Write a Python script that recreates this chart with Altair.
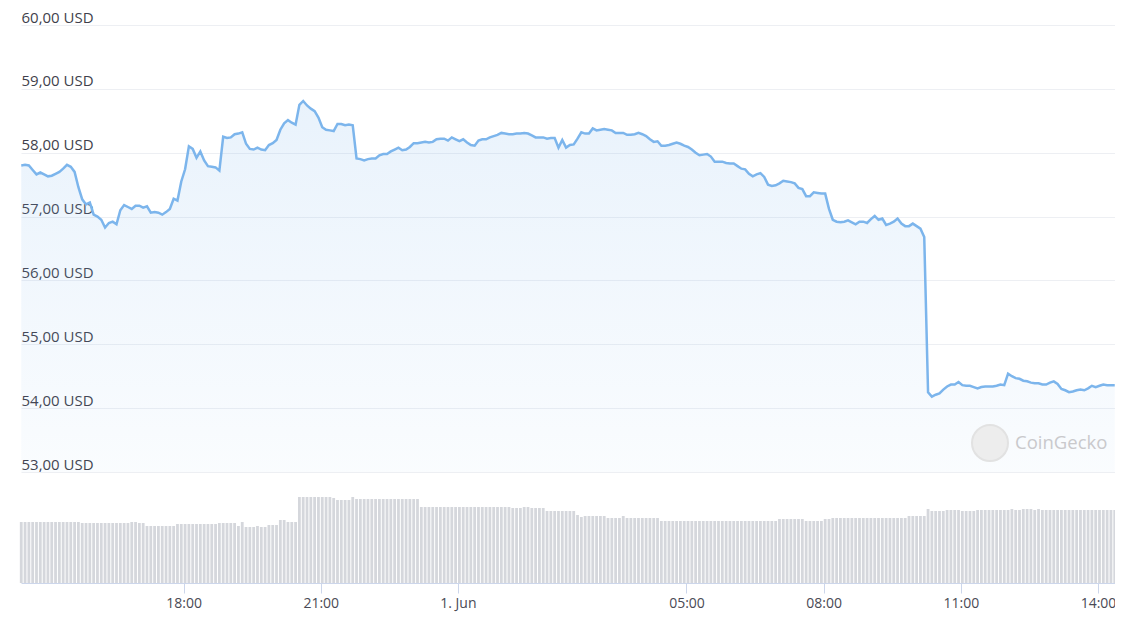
import altair as alt
import pandas as pd

# ---- data (5-minute steps, 31 May 14:27 -> 1 Jun 14:22) ----
price = [
    57.80, 57.81, 57.80, 57.73, 57.66, 57.69, 57.66, 57.63, 57.64, 57.67, 57.70, 57.75,
    57.81, 57.78, 57.70, 57.46, 57.27, 57.19, 57.22, 57.03, 57.00, 56.95, 56.83, 56.90,
    56.92, 56.88, 57.10, 57.18, 57.15, 57.12, 57.17, 57.17, 57.14, 57.16, 57.06, 57.07,
    57.06, 57.03, 57.07, 57.12, 57.28, 57.25, 57.55, 57.74, 58.10, 58.06, 57.92, 58.02,
    57.88, 57.79, 57.78, 57.77, 57.72, 58.25, 58.23, 58.24, 58.29, 58.30, 58.32, 58.14,
    58.06, 58.05, 58.08, 58.05, 58.04, 58.12, 58.15, 58.20, 58.36, 58.46, 58.51, 58.47,
    58.44, 58.75, 58.81, 58.74, 58.69, 58.65, 58.55, 58.40, 58.36, 58.35, 58.34, 58.45,
    58.45, 58.43, 58.44, 58.43, 57.91, 57.90, 57.88, 57.90, 57.91, 57.91, 57.96, 57.98,
    57.98, 58.02, 58.05, 58.08, 58.04, 58.05, 58.09, 58.15, 58.15, 58.16, 58.17, 58.16,
    58.17, 58.21, 58.22, 58.22, 58.19, 58.24, 58.21, 58.18, 58.21, 58.16, 58.12, 58.11,
    58.19, 58.21, 58.21, 58.24, 58.26, 58.28, 58.31, 58.30, 58.29, 58.29, 58.30, 58.30,
    58.31, 58.30, 58.27, 58.24, 58.24, 58.24, 58.22, 58.23, 58.23, 58.08, 58.20, 58.08,
    58.12, 58.13, 58.22, 58.32, 58.30, 58.30, 58.38, 58.35, 58.36, 58.37, 58.36, 58.35,
    58.31, 58.31, 58.31, 58.28, 58.28, 58.29, 58.31, 58.29, 58.26, 58.21, 58.17, 58.18,
    58.11, 58.11, 58.12, 58.14, 58.16, 58.14, 58.11, 58.09, 58.05, 58.00, 57.96, 57.97,
    57.98, 57.94, 57.86, 57.86, 57.86, 57.84, 57.83, 57.83, 57.79, 57.75, 57.74, 57.67,
    57.63, 57.66, 57.68, 57.62, 57.50, 57.48, 57.49, 57.52, 57.56, 57.55, 57.54, 57.52,
    57.45, 57.43, 57.32, 57.32, 57.38, 57.37, 57.36, 57.36, 57.12, 56.95, 56.92, 56.91,
    56.92, 56.94, 56.91, 56.88, 56.92, 56.92, 56.90, 56.96, 57.01, 56.95, 56.97, 56.87,
    56.89, 56.92, 56.97, 56.89, 56.85, 56.85, 56.89, 56.85, 56.81, 56.68, 54.25, 54.18,
    54.21, 54.23, 54.29, 54.34, 54.37, 54.37, 54.41, 54.36, 54.35, 54.35, 54.33, 54.31,
    54.33, 54.34, 54.34, 54.34, 54.35, 54.37, 54.36, 54.54, 54.50, 54.47, 54.46, 54.43,
    54.42, 54.40, 54.39, 54.39, 54.37, 54.37, 54.40, 54.42, 54.38, 54.30, 54.28, 54.25,
    54.26, 54.28, 54.29, 54.28, 54.31, 54.35, 54.33, 54.35, 54.37, 54.36, 54.36, 54.36,
]

# 24h rolling volume (relative units)
volume = [
    61, 61, 61, 61, 61, 61, 61, 61, 61, 61, 61, 61,
    61, 61, 61, 61, 60, 60, 60, 60, 60, 60, 60, 60,
    60, 60, 60, 60, 60, 61, 61, 60, 60, 57, 57, 57,
    57, 57, 57, 57, 57, 59, 59, 59, 59, 59, 59, 59,
    59, 59, 59, 59, 60, 60, 60, 60, 60, 57, 61, 56,
    56, 56, 57, 56, 56, 58, 58, 58, 63, 63, 61, 61,
    61, 86, 86, 86, 86, 86, 86, 86, 86, 86, 85, 83,
    83, 83, 83, 86, 84, 84, 84, 84, 84, 84, 84, 84,
    84, 84, 84, 84, 84, 84, 84, 84, 84, 76, 76, 76,
    76, 76, 76, 76, 76, 76, 76, 76, 76, 76, 76, 76,
    76, 76, 76, 76, 76, 76, 76, 76, 76, 75, 75, 75,
    76, 76, 75, 75, 75, 75, 72, 72, 72, 72, 72, 72,
    72, 72, 68, 66, 67, 67, 67, 67, 67, 67, 65, 65,
    65, 65, 67, 65, 65, 65, 65, 65, 65, 65, 65, 65,
    62, 62, 62, 62, 62, 62, 62, 62, 62, 62, 62, 62,
    62, 62, 62, 62, 62, 62, 62, 62, 62, 62, 62, 62,
    62, 62, 62, 62, 62, 62, 62, 64, 64, 64, 64, 64,
    64, 64, 62, 62, 62, 62, 62, 64, 64, 65, 65, 65,
    65, 65, 65, 65, 65, 65, 65, 65, 65, 65, 65, 65,
    65, 65, 65, 65, 65, 67, 67, 67, 67, 67, 74, 72,
    72, 72, 72, 73, 73, 73, 73, 72, 72, 72, 72, 73,
    73, 73, 73, 73, 73, 73, 73, 73, 74, 73, 73, 74,
    74, 74, 73, 74, 73, 73, 73, 73, 73, 73, 73, 73,
    73, 73, 73, 73, 73, 73, 73, 73, 73, 73, 73, 73,
]

y_ticks = [53, 54, 55, 56, 57, 58, 59, 60]
x_ticks = [
    alt.DateTime(year=2024, month=5, date=31, hours=18),
    alt.DateTime(year=2024, month=5, date=31, hours=21),
    alt.DateTime(year=2024, month=6, date=1, hours=0),
    alt.DateTime(year=2024, month=6, date=1, hours=5),
    alt.DateTime(year=2024, month=6, date=1, hours=8),
    alt.DateTime(year=2024, month=6, date=1, hours=11),
    alt.DateTime(year=2024, month=6, date=1, hours=14),
]

times = pd.date_range("2024-05-31 14:27", periods=len(price), freq="5min").strftime("%Y-%m-%dT%H:%M:%S")
df = pd.DataFrame({"t": list(times), "price": price, "volume": volume})

x_scale = alt.Scale(
    domain=[alt.DateTime(year=2024, month=5, date=31, hours=14, minutes=26, seconds=40),
            alt.DateTime(year=2024, month=6, date=1, hours=14, minutes=22, seconds=20)],
    padding=0,
)

x_axis = alt.Axis(
    values=x_ticks,
    labelExpr="hours(datum.value) == 0 ? '1. Jun' : timeFormat(datum.value, '%H:%M')",
    grid=False, domainColor="#ccd6eb", tickColor="#ccd6eb", tickSize=10,
    labelPadding=3, labelFontSize=14, labelColor="#4a4a55", title=None,
    labelFont="Open Sans", labelFlush=False,
)

H = 558
price_scale = alt.Scale(domain=[60 - H / 63.86, 60], nice=False, zero=False)
price_axis = alt.Axis(
    values=y_ticks,
    labelExpr="replace(format(datum.value, '.2f'), '.', ',') + ' USD'",
    labelAlign="left", labelBaseline="alphabetic", labelPadding=0, labelOffset=-3,
    ticks=False, domain=False, grid=True, gridColor="#edeff3", gridWidth=1,
    labelFontSize=15, labelColor="#3f3f4c", labelFont="Open Sans", title=None,
)

base = alt.Chart(df)

bars = base.mark_bar(width=2.8, color="#d5d7dc").encode(
    x=alt.X("t:T", scale=x_scale, axis=x_axis),
    y=alt.Y("volume:Q", scale=alt.Scale(domain=[0, H], nice=False), axis=None),
)

area = base.mark_area(
    color=alt.Gradient(
        gradient="linear",
        stops=[alt.GradientStop(color="rgba(124,181,236,0.04)", offset=0),
               alt.GradientStop(color="rgba(124,181,236,0.17)", offset=1)],
        x1=1, x2=1, y1=1, y2=0,
    )
).encode(
    x=alt.X("t:T", scale=x_scale, axis=x_axis),
    y=alt.Y("price:Q", scale=price_scale, axis=price_axis),
    y2=alt.datum(53),
)

line = base.mark_line(color="#7cb5ec", strokeWidth=2.5).encode(
    x=alt.X("t:T", scale=x_scale, axis=x_axis),
    y=alt.Y("price:Q", scale=price_scale, axis=price_axis),
)

wm = pd.DataFrame({"name": ["CoinGecko"]})
logo = alt.Chart(wm).mark_point(shape="circle", filled=True, size=1296, color="#ededed",
                                stroke="#e2e2e2", strokeWidth=2, opacity=1).encode(
    x=alt.value(969), y=alt.value(418))
logo_text = alt.Chart(wm).mark_text(align="left", baseline="middle", fontSize=18.5,
                                    font="Open Sans", color="#c9c9cc").encode(
    x=alt.value(994), y=alt.value(418), text="name:N")

price_layer = alt.layer(area, line, logo, logo_text)

chart = alt.layer(bars, price_layer).resolve_scale(
    y="independent"
).properties(
    width=1094, height=H,
    autosize=alt.AutoSizeParams(type="none"),
    padding={"left": 13, "top": 17, "right": 0, "bottom": 34},
    background="white",
).configure_view(stroke=None)

chart.save("out.html", embed_options={"renderer": "svg", "actions": False})
